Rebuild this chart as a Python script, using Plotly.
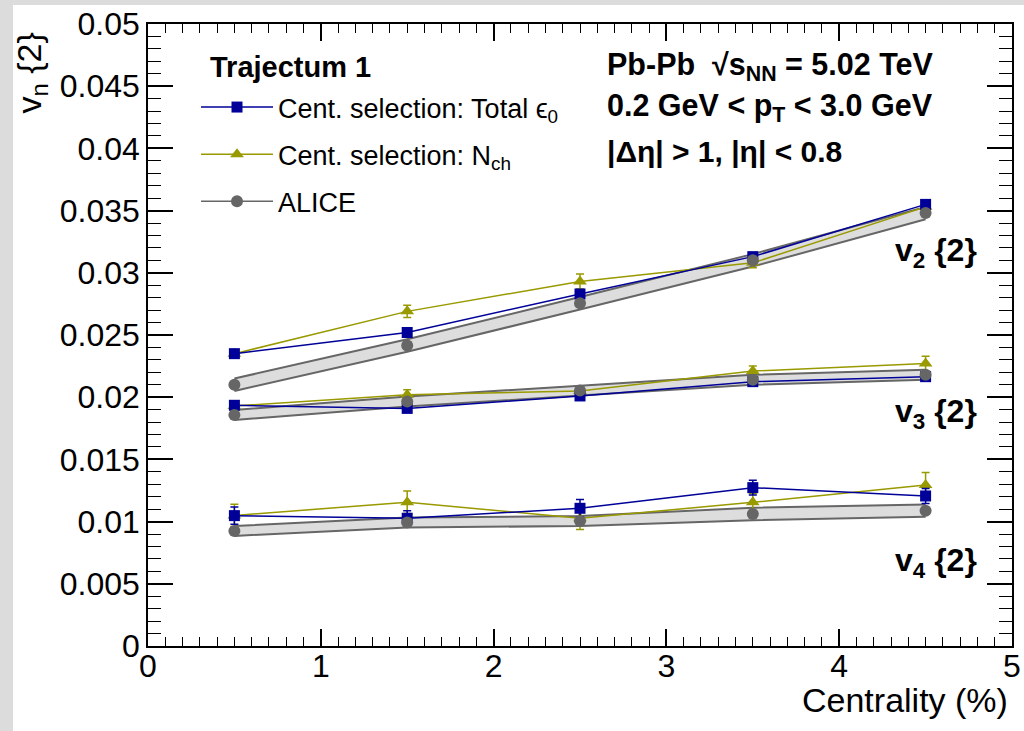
import plotly.graph_objects as go

# ---------------- data ----------------
cent = [0.5, 1.5, 2.5, 3.5, 4.5]

v2_tot = [0.0235, 0.0252, 0.0283, 0.0313, 0.0355]
v2_tot_err = [0.0003, 0.0003, 0.0003, 0.0003, 0.0003]
v2_nch = [0.0235, 0.0269, 0.0293, 0.0308, 0.0353]
v2_nch_err = [0.0003, 0.0005, 0.0006, 0.0004, 0.0003]
v2_alice = [0.0210, 0.02415, 0.02755, 0.0310, 0.0348]
v2_alice_sys = [0.0005, 0.0005, 0.0005, 0.0005, 0.0005]

v3_tot = [0.01935, 0.0191, 0.0201, 0.02125, 0.02165]
v3_tot_err = [0.0003, 0.0003, 0.0003, 0.0003, 0.0003]
v3_nch = [0.0193, 0.0202, 0.0205, 0.0221, 0.0227]
v3_nch_err = [0.0003, 0.0004, 0.0003, 0.0004, 0.0006]
v3_alice = [0.01857, 0.01965, 0.02053, 0.0214, 0.0218]
v3_alice_sys = [0.0004, 0.0004, 0.0004, 0.0004, 0.0004]

v4_tot = [0.01048, 0.01027, 0.01107, 0.01273, 0.01206]
v4_tot_err = [0.0007, 0.0006, 0.0007, 0.0006, 0.0006]
v4_nch = [0.0105, 0.01155, 0.01027, 0.01155, 0.01294]
v4_nch_err = [0.0009, 0.0009, 0.0009, 0.0007, 0.0010]
v4_alice = [0.00925, 0.00992, 0.01005, 0.01061, 0.01088]
v4_alice_sys = [0.0004, 0.0004, 0.0004, 0.0005, 0.0005]

x_ticks = [0, 1, 2, 3, 4, 5]
y_ticks = [0, 0.005, 0.01, 0.015, 0.02, 0.025, 0.03, 0.035, 0.04, 0.045, 0.05]
y_ticktext = ["0", "0.005", "0.01", "0.015", "0.02", "0.025", "0.03", "0.035", "0.04", "0.045", "0.05"]

series_names = ["Cent. selection: Total \u03f5<sub>0</sub>", "Cent. selection: N<sub>ch</sub>", "ALICE"]
harm_labels = ["v<sub>2</sub> {2}", "v<sub>3</sub> {2}", "v<sub>4</sub> {2}"]

# ---------------- style ----------------
BLUE = "#000099"
OLIVE = "#999900"
GRAY = "#666666"
BAND = "#dddddd"
FONT = "Liberation Sans"

W, H = 1024, 731
ML, MR, MT, MB = 148, 12, 24, 85
PW, PH = W - ML - MR, H - MT - MB


def px_x(px):
    return (px - ML) / PW


def px_y(py):
    return 1 - (py - MT) / PH


fig = go.Figure()

groups = [
    (v2_tot, v2_tot_err, v2_nch, v2_nch_err, v2_alice, v2_alice_sys),
    (v3_tot, v3_tot_err, v3_nch, v3_nch_err, v3_alice, v3_alice_sys),
    (v4_tot, v4_tot_err, v4_nch, v4_nch_err, v4_alice, v4_alice_sys),
]

# ALICE systematic bands
for (_, _, _, _, al, sys) in groups:
    up = [a + s for a, s in zip(al, sys)]
    lo = [a - s for a, s in zip(al, sys)]
    fig.add_trace(go.Scatter(x=cent, y=up, mode="lines", line=dict(color=GRAY, width=2),
                             showlegend=False, hoverinfo="skip"))
    fig.add_trace(go.Scatter(x=cent, y=lo, mode="lines", line=dict(color=GRAY, width=2),
                             fill="tonexty", fillcolor=BAND, showlegend=False, hoverinfo="skip"))

# model curves
for i, (tot, tot_e, nch, nch_e, al, sys) in enumerate(groups):
    fig.add_trace(go.Scatter(
        x=cent, y=nch, mode="lines+markers",
        line=dict(color=OLIVE, width=1.5),
        marker=dict(symbol="triangle-up", size=12, color=OLIVE),
        error_y=dict(type="data", array=nch_e, color=OLIVE, thickness=1.5, width=4),
        name=series_names[1], legendgroup="nch", legendrank=2, showlegend=(i == 0)))
    fig.add_trace(go.Scatter(
        x=cent, y=tot, mode="lines+markers",
        line=dict(color=BLUE, width=1.5),
        marker=dict(symbol="square", size=11, color=BLUE),
        error_y=dict(type="data", array=tot_e, color=BLUE, thickness=1.5, width=4),
        name=series_names[0], legendgroup="tot", legendrank=1, showlegend=(i == 0)))
    fig.add_trace(go.Scatter(
        x=cent, y=al, mode="markers",
        marker=dict(symbol="circle", size=12, color=GRAY),
        name=series_names[2], legendgroup="alice", showlegend=False))

# legend entry for ALICE (line + marker)
fig.add_trace(go.Scatter(x=[None], y=[None], mode="lines+markers",
                         line=dict(color=GRAY, width=1.5),
                         marker=dict(symbol="circle", size=12, color=GRAY),
                         name=series_names[2], legendgroup="alice", legendrank=3))

# ---------------- annotations ----------------
ann = []
info = [
    ("<b>Pb-Pb  \u221as<sub>NN</sub> = 5.02 TeV</b>", 66, 30.5),
    ("<b>0.2 GeV < p<sub>T</sub> < 3.0 GeV</b>", 107, 30.5),
    ("<b>|\u0394\u03b7| > 1, |\u03b7| < 0.8</b>", 152, 30),
]
for txt, py, fs in info:
    ann.append(dict(text=txt, x=px_x(605), y=px_y(py), xref="paper", yref="paper",
                    xanchor="left", yanchor="middle", showarrow=False,
                    font=dict(family=FONT, size=fs, color="black")))

for txt, py in zip(harm_labels, [252, 414, 562]):
    ann.append(dict(text="<b>" + txt + "</b>", x=px_x(979), y=px_y(py), xref="paper", yref="paper",
                    xanchor="right", yanchor="middle", showarrow=False,
                    font=dict(family=FONT, size=32, color="black")))

ann.append(dict(text="<b>Trajectum 1</b>", x=px_x(208), y=px_y(67), xref="paper", yref="paper",
                xanchor="left", yanchor="middle", showarrow=False,
                font=dict(family=FONT, size=29, color="black")))

ann.append(dict(text="v<sub>n</sub> {2}", textangle=-90, x=px_x(31), y=px_y(31),
                xref="paper", yref="paper", xanchor="center", yanchor="top",
                showarrow=False, font=dict(family=FONT, size=34, color="black")))
ann.append(dict(text="Centrality (%)", x=px_x(1010), y=px_y(700),
                xref="paper", yref="paper", xanchor="right", yanchor="middle",
                showarrow=False, font=dict(family=FONT, size=34, color="black")))

# gray frame of the canvas
shapes = [
    dict(type="rect", xref="paper", yref="paper", x0=px_x(0), x1=px_x(13), y0=px_y(H), y1=px_y(0),
         fillcolor="#dcdcdc", line=dict(width=0), layer="below"),
    dict(type="rect", xref="paper", yref="paper", x0=px_x(0), x1=px_x(W), y0=px_y(5), y1=px_y(0),
         fillcolor="#dcdcdc", line=dict(width=0), layer="below"),
]

axis_common = dict(showline=True, linecolor="black", linewidth=1.5, mirror="ticks",
                   ticks="inside", tickcolor="black", tickwidth=1.5, showgrid=False,
                   zeroline=False, automargin=False,
                   tickfont=dict(family=FONT, size=32, color="black"))

fig.update_layout(
    width=W, height=H,
    margin=dict(l=ML, r=MR, t=MT, b=MB, autoexpand=False),
    paper_bgcolor="white", plot_bgcolor="white",
    xaxis=dict(range=[0, 5], tickmode="array", tickvals=x_ticks, ticktext=[str(v) for v in x_ticks],
               ticklen=17, ticklabelstandoff=-9,
               minor=dict(tick0=0, dtick=0.1, ticks="inside", ticklen=9, tickcolor="black", tickwidth=1.2),
               **axis_common),
    yaxis=dict(range=[0, 0.05], tickmode="array", tickvals=y_ticks, ticktext=y_ticktext,
               ticklen=25,
               minor=dict(tick0=0, dtick=0.001, ticks="inside", ticklen=13, tickcolor="black", tickwidth=1.2),
               **axis_common),
    legend=dict(x=px_x(196), y=px_y(83), xanchor="left", yanchor="top",
                bgcolor="rgba(0,0,0,0)", traceorder="grouped", tracegroupgap=9,
                font=dict(family=FONT, size=27, color="black"),
                itemwidth=72),
    annotations=ann,
    shapes=shapes,
)

fig.write_html("out.html")
